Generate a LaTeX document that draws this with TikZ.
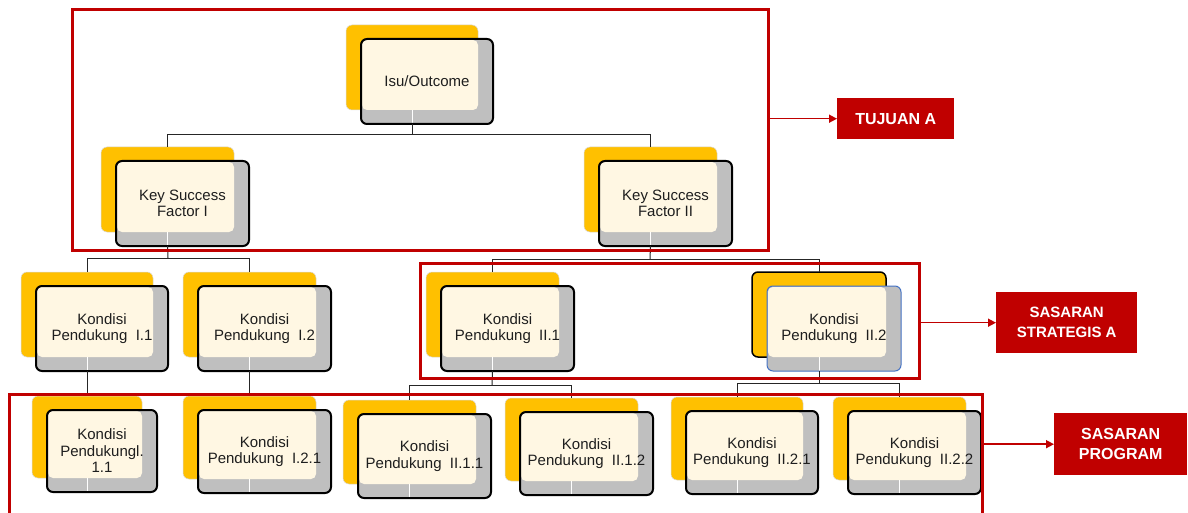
\documentclass[tikz,border=0pt]{standalone}
\usepackage{fontspec}
\setmainfont{Liberation Sans}
\usetikzlibrary{calc,arrows.meta}
\definecolor{kor}{HTML}{FFC000}
\definecolor{kgr}{HTML}{BFBFBF}
\definecolor{kcr}{HTML}{FFF7E3}
\definecolor{kred}{HTML}{C00000}
\definecolor{ktx}{HTML}{1E1E1E}
\definecolor{kblue}{HTML}{4472C4}
\tikzset{
  obox/.style={rectangle, rounded corners=6pt, fill=kor, draw=black!15, line width=0.5pt, inner sep=0pt, outer sep=0pt},
  mbox/.style={rectangle, rounded corners=6pt, fill=kgr, inner sep=0pt, outer sep=0pt},
  mborder/.style={draw=black, line width=2pt},
  creamfill/.style={fill=kcr},
  ktext/.style={align=center, text=ktx, font=\fontsize{15}{16.5}\selectfont, inner sep=0pt},
  conn/.style={draw=black!85, line width=1pt},
  frame/.style={rectangle, draw=kred, line width=3pt, inner sep=0pt, outer sep=0pt},
  lbl/.style={rectangle, fill=kred, text=white, align=center, inner sep=0pt, font=\bfseries\fontsize{16}{20}\selectfont},
  redarrow/.style={draw=kred, line width=1.5pt, -{Triangle[length=8pt,width=8pt]}},
}
% #1 extra options, #2 name, #3 ox, #4 oy, #5 w, #6 h, #7 text
\newcommand\kbox[7][]{%
  \begin{scope}[#1]
  \node[obox, minimum width=#5, minimum height=#6, anchor=north west] (#2-o) at (#3,#4) {};
  \node[mbox, minimum width=#5, minimum height=#6, anchor=north west] (#2) at (#3+15,#4+14) {};
  \fill[creamfill, rounded corners=5pt] ($(#2.north west)+(1,1)$) rectangle (#2-o.south east);
  \draw[white, line width=1pt] (#2-o.south) -- (#2-o.south |- #2.south);
  \draw[mborder, rounded corners=6pt] (#2.north west) rectangle (#2.south east);
  \node[ktext] (#2-t) at (#2) {#7};
  \end{scope}}
\begin{document}
\begin{tikzpicture}[x=1pt,y=-1pt]
\useasboundingbox (0,0) rectangle (1188,513);
\clip (0,0) rectangle (1188,513);
\fill[white] (0,0) rectangle (1188,513);

% connectors (drawn first, behind boxes)
\coordinate (j0) at (412,135);
\coordinate (j1) at (168,258);
\coordinate (j2) at (650,259);
\coordinate (j3) at (492,385);
\coordinate (j4) at (819,383);

\kbox{isu}{346}{25}{132}{85}{Isu/Outcome}
\kbox{ksfa}{101}{147}{133}{85}{Key Success\\Factor I}
\kbox{ksfb}{584}{147}{133}{85}{Key Success\\Factor II}
\kbox{kpa}{21}{272}{132}{85}{Kondisi\\Pendukung~ I.1}
\kbox{kpb}{183}{272}{133}{85}{Kondisi\\Pendukung~ I.2}
\kbox{kpc}{426}{272}{133}{85}{Kondisi\\Pendukung~ II.1}
\kbox[obox/.append style={draw=black, line width=1.5pt}, mborder/.append style={draw=kblue, line width=1pt}]{kpd}{752}{272}{134}{85}{Kondisi\\Pendukung~ II.2}
\kbox{kpaa}{32}{396}{110}{82}{Kondisi\\Pendukungl.\\1.1}
\kbox{kpba}{183}{396}{133}{83}{Kondisi\\Pendukung~ I.2.1}
\kbox{kpca}{343}{400}{133}{84}{Kondisi\\Pendukung~ II.1.1}
\kbox{kpcb}{505}{398}{133}{83}{Kondisi\\Pendukung~ II.1.2}
\kbox{kpda}{671}{397}{132}{83}{Kondisi\\Pendukung~ II.2.1}
\kbox{kpdb}{833}{397}{133}{83}{Kondisi\\Pendukung~ II.2.2}

\draw[conn] (isu-o.south |- isu.south) -- (j0);
\draw[conn] (j0) -| (ksfa-o.north);
\draw[conn] (j0) -| (ksfb-o.north);
\draw[conn] (ksfa-o.south |- ksfa.south) -- (j1);
\draw[conn] (j1) -| (kpa-o.north);
\draw[conn] (j1) -| (kpb-o.north);
\draw[conn] (ksfb-o.south |- ksfb.south) -- (j2);
\draw[conn] (j2) -| (kpc-o.north);
\draw[conn] (j2) -| (kpd-o.north);
\draw[conn] (kpa-o.south |- kpa.south) -- (kpaa-o.north);
\draw[conn] (kpb-o.south |- kpb.south) -- (kpba-o.north);
\draw[conn] (kpc-o.south |- kpc.south) -- (j3);
\draw[conn] (j3) -| (kpca-o.north);
\draw[conn] (j3) -| (kpcb-o.north);
\draw[conn] (kpd-o.south |- kpd.south) -- (j4);
\draw[conn] (j4) -| (kpda-o.north);
\draw[conn] (j4) -| (kpdb-o.north);

% red frames
\node[frame, minimum width=696, minimum height=240, anchor=north west] (fa) at (72,10) {};
\node[frame, minimum width=499, minimum height=115, anchor=north west] (fb) at (420,263) {};
\node[frame, minimum width=973, minimum height=160, anchor=north west] (fc) at (9,394) {};

% labels
\node[lbl, minimum width=117, minimum height=41, anchor=north west] (la) at (837,98) {TUJUAN A};
\node[lbl, minimum width=141, minimum height=61, anchor=north west, font=\bfseries\fontsize{15}{20}\selectfont] (lb) at (996,292) {SASARAN\\STRATEGIS A};
\node[lbl, minimum width=133, minimum height=62, anchor=north west] (lc) at (1054,413) {SASARAN\\PROGRAM};

\draw[redarrow] (fa.east |- la.west) -- (la.west);
\draw[redarrow] (fb.east |- lb.west) -- (lb.west);
\draw[redarrow] (fc.east |- lc.west) -- (lc.west);
\end{tikzpicture}
\end{document}
